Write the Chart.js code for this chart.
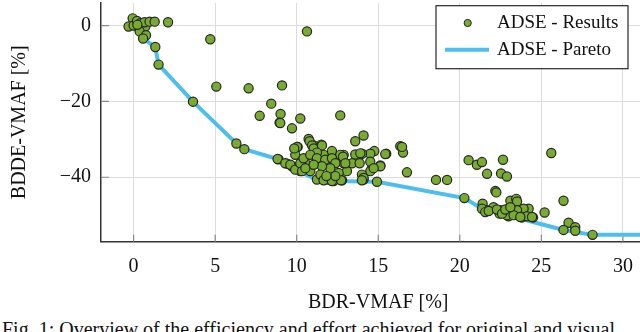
<!DOCTYPE html>
<html><head><meta charset="utf-8">
<script src="https://cdn.jsdelivr.net/npm/chart.js@4/dist/chart.umd.min.js"></script>
<style>
html,body{margin:0;padding:0;background:#fff;width:640px;height:332px;overflow:hidden;position:relative}
#wrap{position:absolute;left:0;top:-2.7px;width:680px;height:320px}
#cap{position:absolute;left:2px;top:318.5px;font:20px "Liberation Serif",serif;line-height:20px;white-space:nowrap;color:#111}
</style></head><body>
<div id="wrap"><canvas id="c"></canvas></div>
<div id="cap">Fig. 1: Overview of the efficiency and effort achieved for original and visual</div>
<script>
const resultsX = [-0.06,-0.31,0.0,0.21,0.41,0.52,0.72,0.66,0.98,1.29,2.11,0.37,0.76,0.58,1.33,1.53,0.23,4.70,10.63,5.07,7.05,9.10,3.64,8.44,7.73,9.01,8.95,10.22,9.71,6.30,6.79,8.89,9.41,9.71,9.91,10.33,9.91,10.06,9.91,10.73,11.04,11.24,11.24,10.83,10.22,12.67,14.10,13.59,11.51,11.14,16.35,16.52,15.49,14.76,14.51,14.00,13.59,12.88,12.16,11.65,10.53,12.26,12.88,13.39,15.13,14.62,14.51,16.76,13.08,14.00,14.10,14.92,12.78,12.26,11.86,18.54,19.22,20.28,20.54,21.05,21.36,21.67,22.53,22.18,22.65,22.89,25.61,22.24,26.36,21.40,23.10,23.46,23.51,25.20,26.67,27.08,26.36,27.08,28.14,24.22,23.91,24.49,23.81,22.99,22.48,21.67,21.36,22.07,22.69,22.89,23.40,24.12,22.44,23.51,21.56,21.77,22.28,22.59,22.79,23.30,23.71,24.43,23.10,8.99,10.79,10.02,9.85,10.94,11.04,11.55,11.24,12.16,12.67,12.84,13.90,15.43,16.46,8.83,9.30,9.61,9.91,10.22,10.42,10.83,11.24,11.75,12.16,12.37,12.98,13.86,14.51,15.13,14.72,12.57,12.06,11.55,11.04,11.45,11.65,12.16,12.72,12.37,14.10,14.00,11.82,10.33,10.53];
const resultsY = [1.9,-0.26,0.0,1.21,0.62,-0.67,-0.26,0.88,1.03,1.03,0.88,-1.54,-2.57,-3.42,-5.66,-10.3,0.18,-3.6,-1.54,-16.1,-16.55,-15.78,-20.08,-20.6,-23.8,-23.3,-25.6,-24.5,-27.1,-31.1,-32.6,-35.3,-36.4,-37.1,-37.6,-36.6,-32.6,-32.0,-34.1,-29.9,-31.6,-34.1,-40.6,-38.4,-38.4,-23.7,-29.0,-30.5,-31.4,-32.8,-31.8,-33.5,-33.8,-33.1,-33.8,-33.8,-34.0,-34.1,-33.3,-34.1,-36.3,-36.3,-36.3,-36.3,-36.9,-37.6,-38.4,-38.7,-38.4,-39.3,-40.6,-41.2,-40.8,-41.0,-40.6,-40.7,-40.7,-45.5,-35.5,-36.7,-36.0,-39.1,-39.0,-43.6,-35.4,-39.8,-33.6,-44.0,-46.2,-47.0,-46.2,-45.7,-46.4,-49.3,-52.0,-53.2,-53.9,-54.1,-55.2,-48.3,-48.3,-50.6,-50.6,-50.3,-48.7,-48.7,-48.3,-47.9,-49.2,-50.0,-49.6,-50.3,-49.6,-48.7,-49.2,-48.9,-48.5,-49.6,-48.5,-50.0,-50.5,-50.5,-47.9,-25.7,-30.5,-32.0,-32.4,-31.6,-32.4,-31.6,-33.5,-33.1,-34.1,-34.6,-33.7,-33.9,-32.0,-35.2,-36.3,-36.7,-38.0,-36.3,-35.0,-34.1,-35.0,-35.4,-35.0,-36.3,-36.3,-36.3,-35.9,-37.1,-37.6,-38.9,-37.6,-37.1,-36.7,-39.3,-40.8,-41.0,-40.8,-39.7,-40.2,-40.8,-39.7,-38.4,-37.6];
const paretoX = [-0.31,0.37,0.58,1.33,1.53,3.64,6.30,6.79,8.89,9.91,11.24,12.26,14.92,20.28,21.36,26.36,28.14,32];
const paretoY = [-0.26,-1.54,-3.42,-5.66,-10.3,-20.08,-31.1,-32.6,-35.3,-38.0,-40.6,-41.0,-41.2,-45.5,-48.3,-53.9,-55.2,-55.2];
const xTicks = [0,5,10,15,20,25,30];
const yTicks = [0,-20,-40];
const seriesNames = ['ADSE - Results','ADSE - Pareto'];

const GREEN = '#77AC30', BLUE = '#4DBEEE', EDGE = '#262626';
const FONT = '"Liberation Serif", serif';

function noPad(s){ s.paddingTop = 0; s.paddingBottom = 0; s.paddingLeft = 0; s.paddingRight = 0; }

const extras = {
  id:'extras',
  beforeDatasetsDraw(chart){
    const {ctx, chartArea:a, scales:{x,y}} = chart;
    ctx.save();
    ctx.strokeStyle = '#8a8a8a'; ctx.lineWidth = 1.2;
    ctx.beginPath();
    xTicks.forEach(v=>{const p=x.getPixelForValue(v); ctx.moveTo(p,a.bottom); ctx.lineTo(p,a.bottom-7);});
    yTicks.forEach(v=>{const p=y.getPixelForValue(v); ctx.moveTo(a.left,p); ctx.lineTo(a.left+8,p);});
    ctx.stroke();
    ctx.restore();
  },
  afterDatasetsDraw(chart){
    const ctx = chart.ctx; const oy = 2.7;
    ctx.save();
    ctx.fillStyle = '#fff'; ctx.fillRect(436, 6+oy, 192, 63);
    ctx.strokeStyle = EDGE; ctx.lineWidth = 1.2; ctx.strokeRect(436, 6+oy, 192, 63);
    ctx.beginPath(); ctx.arc(467.7, 23.3+oy, 3.6, 0, Math.PI*2);
    ctx.fillStyle = GREEN; ctx.fill(); ctx.lineWidth = 1; ctx.strokeStyle = EDGE; ctx.stroke();
    ctx.beginPath(); ctx.moveTo(445, 50+oy); ctx.lineTo(489, 50+oy);
    ctx.strokeStyle = BLUE; ctx.lineWidth = 4; ctx.stroke();
    ctx.fillStyle = '#111'; ctx.font = '19px ' + FONT; ctx.textBaseline = 'middle'; ctx.textAlign = 'left';
    ctx.fillText(seriesNames[0], 497, 23.5+oy);
    ctx.fillText(seriesNames[1], 497, 50+oy);
    ctx.restore();
  }
};

new Chart(document.getElementById('c'), {
  type:'scatter',
  data:{datasets:[
    {label:seriesNames[0], data:resultsX.map((v,i)=>({x:v,y:resultsY[i]})),
     pointRadius:4.6, pointBackgroundColor:GREEN, pointBorderColor:EDGE, pointBorderWidth:1.2, showLine:false},
    {label:seriesNames[1], data:paretoX.map((v,i)=>({x:v,y:paretoY[i]})),
     showLine:true, borderColor:BLUE, borderWidth:4, pointRadius:0, tension:0, fill:false}
  ]},
  options:{
    responsive:true, maintainAspectRatio:false, animation:false,
    layout:{padding:{left:0,right:24.5,top:0,bottom:0}},
    plugins:{legend:{display:false}, tooltip:{enabled:false}},
    scales:{
      x:{type:'linear', min:-2, max:32,
        afterBuildTicks:s=>{s.ticks = xTicks.map(v=>({value:v}));},
        afterFit:s=>{s.height = 75.3; noPad(s);},
        grid:{color:'#dcdcdc', lineWidth:1, drawTicks:false},
        border:{display:true, color:'#333', width:1.5},
        ticks:{padding:13, color:'#111', font:{family:FONT, size:20}, maxRotation:0},
        title:{display:true, text:'BDR-VMAF [%]', color:'#111', font:{family:FONT, size:20}, padding:{top:0,bottom:2}}
      },
      y:{type:'linear', min:-57, max:6,
        afterBuildTicks:s=>{s.ticks = yTicks.map(v=>({value:v}));},
        afterFit:s=>{s.width = 101; noPad(s);},
        grid:{color:'#dcdcdc', lineWidth:1, drawTicks:false},
        border:{display:true, color:'#333', width:1.5},
        ticks:{padding:10, color:'#111', font:{family:FONT, size:20},
          callback:v=> v<0 ? '\u2212'+Math.abs(v) : String(v)},
        title:{display:true, text:'BDDE-VMAF [%]', color:'#111', font:{family:FONT, size:20}, padding:{top:8,bottom:0}}
      }
    }
  },
  plugins:[extras]
});
</script>
</body></html>
